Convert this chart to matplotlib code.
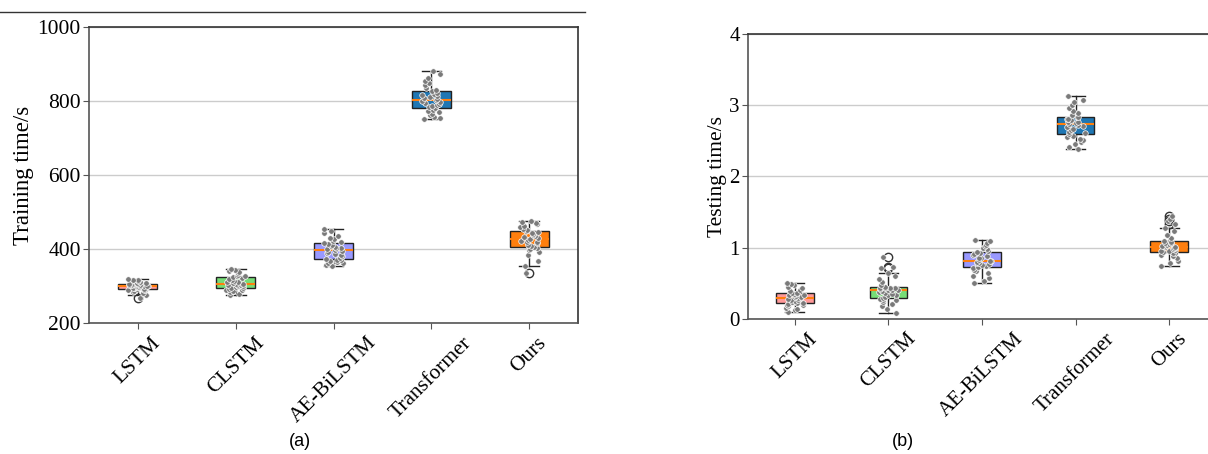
"""Training / testing time box plots with per-run points."""

import matplotlib

matplotlib.use("Agg")
import matplotlib.pyplot as plt
from matplotlib.lines import Line2D
import numpy as np

models = ["LSTM", "CLSTM", "AE-BiLSTM", "Transformer", "Ours"]
box_colors = ["#FF9999", "#77DD77", "#9999FF", "#1F77B4", "#FF7F0E"]

# training time per run (s)
train_lstm = [267, 277, 281, 284, 286, 288, 289, 290, 291, 293, 294, 295, 296, 297, 297, 298, 299,
              300, 301, 301, 302, 303, 303, 304, 305, 306, 307, 309, 311, 313, 315, 316, 318]
train_clstm = [275, 279, 283, 286, 288, 290, 292, 294, 296, 298, 299, 301, 302, 303, 304, 305, 306,
               308, 310, 312, 314, 317, 319, 321, 324, 326, 328, 331, 334, 337, 340, 343, 346]
train_aebilstm = [355, 358, 361, 363, 365, 367, 369, 371, 373, 376, 380, 383, 386, 389, 392, 395, 398,
                  400, 402, 404, 406, 409, 411, 413, 415, 418, 422, 427, 431, 436, 442, 448, 455]
train_transformer = [751, 755, 758, 762, 765, 769, 773, 777, 781, 784, 787, 790, 793, 795, 798, 800, 802,
                     805, 808, 811, 814, 817, 820, 823, 827, 831, 836, 842, 848, 855, 863, 872, 881]
train_ours = [334, 353, 368, 384, 393, 398, 401, 404, 406, 409, 412, 415, 418, 420, 423, 425, 427,
              429, 432, 435, 437, 440, 443, 446, 448, 451, 455, 459, 463, 467, 471, 474, 477]

# testing time per run (s)
test_lstm = [0.10, 0.12, 0.14, 0.16, 0.18, 0.19, 0.20, 0.21, 0.22, 0.23, 0.24, 0.25, 0.26, 0.27, 0.28, 0.29, 0.30,
             0.31, 0.31, 0.32, 0.33, 0.34, 0.35, 0.35, 0.36, 0.37, 0.39, 0.41, 0.43, 0.45, 0.47, 0.49, 0.50]
test_clstm = [0.08, 0.14, 0.18, 0.21, 0.24, 0.26, 0.27, 0.28, 0.29, 0.31, 0.33, 0.34, 0.35, 0.36, 0.38, 0.39, 0.40,
              0.41, 0.41, 0.42, 0.43, 0.43, 0.44, 0.44, 0.45, 0.48, 0.52, 0.56, 0.60, 0.65, 0.71, 0.73, 0.87]
test_aebilstm = [0.51, 0.54, 0.58, 0.61, 0.64, 0.67, 0.69, 0.71, 0.73, 0.74, 0.76, 0.77, 0.78, 0.79, 0.80, 0.81, 0.82,
                 0.83, 0.85, 0.86, 0.88, 0.90, 0.91, 0.93, 0.94, 0.96, 0.98, 1.00, 1.02, 1.04, 1.06, 1.09, 1.11]
test_transformer = [2.38, 2.41, 2.45, 2.48, 2.51, 2.53, 2.55, 2.57, 2.59, 2.61, 2.63, 2.65, 2.67, 2.69, 2.71, 2.72, 2.74,
                    2.75, 2.76, 2.77, 2.79, 2.80, 2.81, 2.83, 2.84, 2.86, 2.89, 2.92, 2.96, 3.00, 3.04, 3.08, 3.13]
test_ours = [0.74, 0.78, 0.82, 0.85, 0.88, 0.90, 0.92, 0.93, 0.94, 0.95, 0.96, 0.97, 0.98, 0.99, 1.00, 1.01, 1.015,
             1.02, 1.03, 1.04, 1.05, 1.06, 1.07, 1.08, 1.09, 1.13, 1.18, 1.23, 1.27, 1.33, 1.37, 1.40, 1.44]

train_times = [train_lstm, train_clstm, train_aebilstm, train_transformer, train_ours]
test_times = [test_lstm, test_clstm, test_aebilstm, test_transformer, test_ours]

plt.rcParams["font.family"] = ["Liberation Serif", "DejaVu Serif"]


def draw_panel(ax, groups, ylabel, ylim, yticks, tick_size, xtick_size, label_size, label_x, seed):
    bp = ax.boxplot(
        groups,
        positions=range(len(groups)),
        widths=0.4,
        patch_artist=True,
        medianprops=dict(color="#FF7F0E", linewidth=1.5),
        boxprops=dict(edgecolor="#222222", linewidth=1.0),
        whiskerprops=dict(color="#222222", linewidth=1.0),
        capprops=dict(color="#222222", linewidth=1.0),
        flierprops=dict(marker="o", markerfacecolor="none", markeredgecolor="#333333", markersize=6),
        zorder=2,
    )
    for patch, color in zip(bp["boxes"], box_colors):
        patch.set_facecolor(color)

    rng = np.random.default_rng(seed)
    for pos, values in enumerate(groups):
        offsets = rng.uniform(-0.1, 0.1, len(values))
        ax.scatter(pos + offsets, values, s=16, color="#7a7a7a", edgecolor="white",
                   linewidth=0.5, zorder=3)

    ax.set_xlim(-0.5, len(groups) - 0.5)
    ax.set_ylim(*ylim)
    ax.set_yticks(yticks)
    ax.set_xticks(range(len(groups)))
    ax.set_xticklabels(models, rotation=45, fontsize=xtick_size)
    ax.tick_params(axis="y", labelsize=tick_size, length=4, color="#555555", pad=2)
    ax.tick_params(axis="x", length=4, color="#555555")
    ax.set_ylabel(ylabel, fontsize=label_size)
    ax.yaxis.set_label_coords(label_x, 0.5)
    ax.yaxis.grid(True, color="#cccccc", linewidth=1.0)
    ax.set_axisbelow(True)
    for side in ["left", "bottom"]:
        ax.spines[side].set_color("#555555")
    for side in ["top", "right"]:
        ax.spines[side].set_color("#333333")
    for spine in ax.spines.values():
        spine.set_linewidth(1.2)


fig = plt.figure(figsize=(12.08, 4.54), dpi=100)
ax_train = fig.add_axes([0.0737, 0.2885, 0.4048, 0.652])
ax_test = fig.add_axes([0.6192, 0.2974, 0.3874, 0.6278])

draw_panel(ax_train, train_times, "Training time/s", (200, 1000), [200, 400, 600, 800, 1000],
           15.5, 15.5, 16.5, -0.112, 7)
draw_panel(ax_test, test_times, "Testing time/s", (0, 4), [0, 1, 2, 3, 4],
           15, 15, 15.5, -0.045, 11)

fig.add_artist(Line2D([0, 585 / 1208], [1 - 12 / 454] * 2, color="#333333", linewidth=1.0))
fig.text(300 / 1208, 1 - 441 / 454, "(a)", ha="center", va="center", fontsize=13,
         family=["Liberation Sans", "DejaVu Sans"])
fig.text(903 / 1208, 1 - 441 / 454, "(b)", ha="center", va="center", fontsize=13,
         family=["Liberation Sans", "DejaVu Sans"])

fig.savefig("out.png", dpi=100, facecolor="white")
